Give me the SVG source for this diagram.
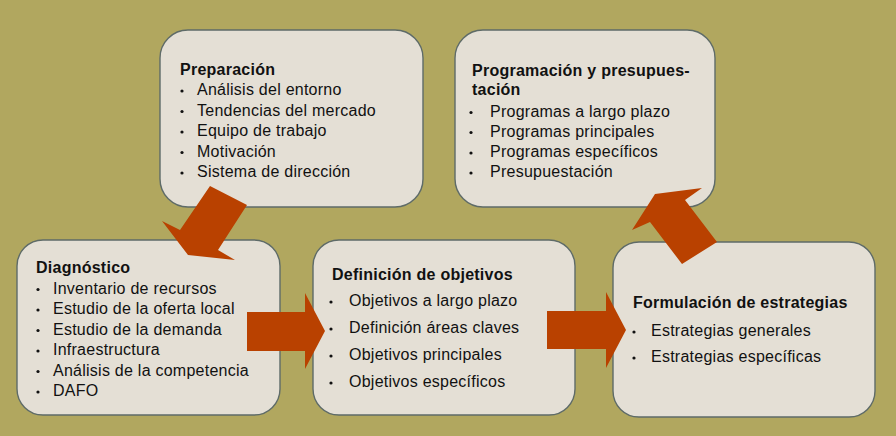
<svg xmlns="http://www.w3.org/2000/svg" width="896" height="436" viewBox="0 0 896 436">
<style>
.box{fill:#e4dfd5;stroke:#5e6b68;stroke-width:1.4}
.t{font-family:"Liberation Sans",Arial,sans-serif;font-size:16px;fill:#111;letter-spacing:0.25px}
.h{font-weight:bold}
.dot{fill:#111}
.arr{fill:#b94100}
</style>
<rect width="896" height="436" fill="#b1a75f"/>
<g id="preparacion">
<rect class="box" x="160" y="30" width="263" height="177" rx="28"/>
<text class="t h" x="180" y="75">Preparación</text>
<g class="dot"><circle cx="182" cy="91" r="1.6"/><circle cx="182" cy="111.5" r="1.6"/><circle cx="182" cy="132" r="1.6"/><circle cx="182" cy="152.5" r="1.6"/><circle cx="182" cy="173" r="1.6"/></g>
<text class="t" x="197" y="95">Análisis del entorno</text>
<text class="t" x="197" y="115.5">Tendencias del mercado</text>
<text class="t" x="197" y="136">Equipo de trabajo</text>
<text class="t" x="197" y="156.5">Motivación</text>
<text class="t" x="197" y="177">Sistema de dirección</text>
</g>
<g id="programacion">
<rect class="box" x="455" y="30" width="260" height="177" rx="28"/>
<text class="t h" x="472" y="76">Programación y presupues-</text>
<text class="t h" x="472" y="94.5">tación</text>
<g class="dot"><circle cx="471" cy="112.5" r="1.6"/><circle cx="471" cy="132.5" r="1.6"/><circle cx="471" cy="153" r="1.6"/><circle cx="471" cy="173" r="1.6"/></g>
<text class="t" x="490" y="116.5">Programas a largo plazo</text>
<text class="t" x="490" y="136.5">Programas principales</text>
<text class="t" x="490" y="157">Programas específicos</text>
<text class="t" x="490" y="177">Presupuestación</text>
</g>
<g id="diagnostico">
<rect class="box" x="17" y="240" width="263" height="175" rx="26"/>
<text class="t h" x="36" y="273">Diagnóstico</text>
<g class="dot"><circle cx="38" cy="289.5" r="1.6"/><circle cx="38" cy="310" r="1.6"/><circle cx="38" cy="330.5" r="1.6"/><circle cx="38" cy="351" r="1.6"/><circle cx="38" cy="371.5" r="1.6"/><circle cx="38" cy="392" r="1.6"/></g>
<text class="t" x="53" y="293.5">Inventario de recursos</text>
<text class="t" x="53" y="314">Estudio de la oferta local</text>
<text class="t" x="53" y="334.5">Estudio de la demanda</text>
<text class="t" x="53" y="355">Infraestructura</text>
<text class="t" x="53" y="375.5">Análisis de la competencia</text>
<text class="t" x="53" y="396">DAFO</text>
</g>
<g id="definicion">
<rect class="box" x="313" y="240" width="262" height="175" rx="26"/>
<text class="t h" x="332" y="280">Definición de objetivos</text>
<g class="dot"><circle cx="331" cy="302" r="1.6"/><circle cx="331" cy="329" r="1.6"/><circle cx="331" cy="356" r="1.6"/><circle cx="331" cy="383" r="1.6"/></g>
<text class="t" x="349" y="306">Objetivos a largo plazo</text>
<text class="t" x="349" y="333">Definición áreas claves</text>
<text class="t" x="349" y="360">Objetivos principales</text>
<text class="t" x="349" y="387">Objetivos específicos</text>
</g>
<g id="formulacion">
<rect class="box" x="613" y="242" width="262" height="175" rx="26"/>
<text class="t h" x="633" y="308">Formulación de estrategias</text>
<g class="dot"><circle cx="634" cy="332" r="1.6"/><circle cx="634" cy="358" r="1.6"/></g>
<text class="t" x="651" y="336">Estrategias generales</text>
<text class="t" x="651" y="362">Estrategias específicas</text>
</g>
<g id="connectors">
<polygon class="arr" points="210,186 247,205 218,250 235,260 188,255 162,221 180,230"/>
<polygon class="arr" points="247,312 305,312 305,293 325,331 305,369 305,351 247,351"/>
<polygon class="arr" points="547,311 606,311 606,292 626,330 606,368 606,349 547,349"/>
<polygon class="arr" points="717,242 682,264 650,222 632,230 655,194 702,188 685,200"/>
</g>
</svg>
